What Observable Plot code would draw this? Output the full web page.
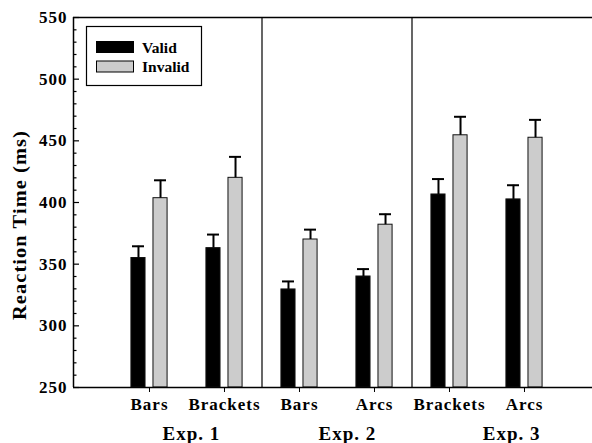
<!DOCTYPE html>
<html>
<head>
<meta charset="utf-8">
<script src="https://cdn.jsdelivr.net/npm/d3@7"></script>
<script src="https://cdn.jsdelivr.net/npm/@observablehq/plot@0.6"></script>
<style>
  html, body { margin: 0; padding: 0; background: #fff; }
  #chart { position: relative; width: 592px; height: 443px; }
</style>
</head>
<body>
<div id="chart"></div>
<script>
// ---- data ----
const categories = ["Bars", "Brackets", "Bars", "Arcs", "Brackets", "Arcs"];
const experiments = ["Exp. 1", "Exp. 2", "Exp. 3"];
const validRT   = [355, 363, 329.5, 340, 406.5, 402.5];
const validSE   = [9.5, 11, 6.5, 6, 12.5, 11.5];
const invalidRT = [403.5, 420, 370, 382, 454.5, 452.5];
const invalidSE = [14.5, 17, 8, 8.5, 15, 14.5];
const yTicksMajor = [250, 300, 350, 400, 450, 500, 550];
const yTicksMinor = d3.range(260, 550, 10).filter(v => v % 50 !== 0);
const separators = [2.5, 4.5];
const yLabel = "Reaction Time (ms)";
const legendLabels = ["Valid", "Invalid"];

// ---- build table ----
const rows = [];
categories.forEach((c, i) => {
  rows.push({idx: i + 1, cond: "Valid", rt: validRT[i], se: validSE[i]});
  rows.push({idx: i + 1, cond: "Invalid", rt: invalidRT[i], se: invalidSE[i]});
});

const font = "'Liberation Serif', 'Times New Roman', serif";
const X0 = -0.01333, X1 = 6.90667;      // x domain (75 px per category)
const pxPerUnit = 75;
const off = c => c === "Valid" ? -0.147 : 0.147;
const halfW = 0.094;
const capHalf = 0.08;
const fills = {Valid: "#000000", Invalid: "#cccccc"};

const plot = Plot.plot({
  width: 592,
  height: 443,
  marginLeft: 73,
  marginRight: 0,
  marginTop: 17,
  marginBottom: 56,
  style: {fontFamily: font, fontWeight: "bold", background: "white", overflow: "visible", letterSpacing: "1px"},
  x: {type: "linear", domain: [X0, X1], axis: null},
  y: {domain: [250, 550], axis: null},
  marks: [
    // bars
    Plot.rectY(rows, {
      x1: d => d.idx + off(d.cond) - halfW,
      x2: d => d.idx + off(d.cond) + halfW,
      y1: 250, y2: "rt",
      fill: d => fills[d.cond],
      stroke: "#111", strokeWidth: 1
    }),
    // error stems
    Plot.ruleX(rows, {
      x: d => d.idx + off(d.cond),
      y1: "rt", y2: d => d.rt + d.se,
      stroke: "#000", strokeWidth: 2
    }),
    // error caps
    Plot.ruleY(rows, {
      y: d => d.rt + d.se,
      x1: d => d.idx + off(d.cond) - capHalf,
      x2: d => d.idx + off(d.cond) + capHalf,
      stroke: "#000", strokeWidth: 2
    }),
    // experiment separators
    Plot.ruleX(separators, {x: d => d, y1: 250, y2: 550, stroke: "#000", strokeWidth: 1.2}),
    // frame: bottom, top, left
    Plot.ruleY([250, 550], {stroke: "#000", strokeWidth: 1.5}),
    Plot.ruleX([X0], {y1: 250, y2: 550, stroke: "#000", strokeWidth: 1.5}),
    // y ticks (inward)
    Plot.ruleY(yTicksMajor, {y: d => d, x1: X0, x2: X0 + 6 / pxPerUnit, stroke: "#000", strokeWidth: 1.2}),
    Plot.ruleY(yTicksMinor, {y: d => d, x1: X0, x2: X0 + 3.5 / pxPerUnit, stroke: "#000", strokeWidth: 1.2}),
    // y tick labels
    Plot.text(yTicksMajor, {
      x: X0, y: d => d, text: d => String(d), textAnchor: "end", dx: -6,
      fontSize: 17, fontWeight: "bold", fill: "#000"
    }),
    // x axis
    Plot.axisX({
      ticks: d3.range(1, categories.length + 1),
      tickFormat: i => categories[i - 1],
      tickSize: 5, tickPadding: 5,
      fontSize: 17, fontWeight: "bold", label: null, color: "#000"
    }),
    // experiment labels
    Plot.text(experiments, {
      x: (d, i) => [1.56, 3.64, 5.83][i],
      y: 250, dy: 46, text: d => d,
      fontSize: 19, fontWeight: "bold", fill: "#000"
    })
  ]
});

document.getElementById("chart").appendChild(plot);

const svg = d3.select(plot);
// y-axis title
svg.append("text")
  .attr("transform", "translate(26,225) rotate(-90)")
  .attr("text-anchor", "middle")
  .attr("font-family", font).attr("font-weight", "bold").attr("font-size", 19)
  .attr("textLength", 190).attr("lengthAdjust", "spacingAndGlyphs")
  .attr("fill", "#000")
  .text(yLabel);

// legend inside the plot area
const lg = svg.append("g").attr("font-family", font).attr("font-weight", "bold")
  .attr("font-size", 15.5).attr("text-anchor", "start").style("letter-spacing", "0px");
lg.append("rect").attr("x", 86.5).attr("y", 26.5).attr("width", 115).attr("height", 59)
  .attr("fill", "#fff").attr("stroke", "#000").attr("stroke-width", 1.2);
legendLabels.forEach((label, i) => {
  lg.append("rect").attr("x", 96.5).attr("y", 41.5 + i * 19.5).attr("width", 37).attr("height", 11)
    .attr("fill", fills[label]).attr("stroke", "#000").attr("stroke-width", 1);
  lg.append("text").attr("x", 142).attr("y", 52.5 + i * 19.5).attr("fill", "#000").text(label);
});
</script>
</body>
</html>
